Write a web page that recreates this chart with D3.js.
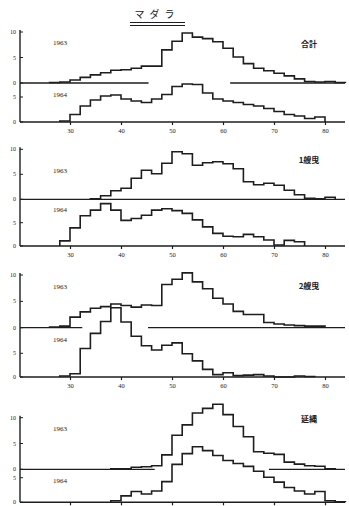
<!DOCTYPE html>
<html>
<head>
<meta charset="utf-8">
<script src="https://cdn.jsdelivr.net/npm/d3@7"></script>
<style>
  body { margin: 0; background: #fff; }
  svg { display: block; }
  text { fill: #222; }
</style>
</head>
<body>
<svg id="chart" width="349" height="506"></svg>
<script>
// length classes (cm), start of each 2 cm bin
const binStarts = [26, 28, 30, 32, 34, 36, 38, 40, 42, 44, 46, 48, 50, 52, 54, 56, 58, 60, 62, 64, 66, 68, 70, 72, 74, 76, 78, 80, 82];
const binWidth = 2;
const xTicks = [30, 40, 50, 60, 70, 80];
const yTicksUpper = [0, 5, 10];
const yTicksLower = [0, 5];
const years = ["1963", "1964"];
const gearNames = ["合計", "1艘曳", "2艘曳", "延縄"];

// frequency (%) per bin
const total1963 = [0.1, 0.2, 0.6, 1.1, 1.6, 2.0, 2.5, 2.6, 2.9, 3.3, 3.3, 6.5, 8.2, 9.8, 9.0, 8.7, 8.1, 6.8, 5.1, 3.8, 2.9, 2.4, 1.9, 1.4, 0.8, 0.3, 0.2, 0.3, 0.1];
const total1964 = [0, 0.2, 1.5, 3.2, 4.4, 5.2, 5.4, 4.6, 4.2, 3.9, 4.6, 5.5, 7.1, 7.6, 7.5, 5.8, 4.6, 4.2, 3.9, 3.5, 3.2, 2.7, 2.1, 1.5, 1.2, 0.7, 1.0, 0, 0];
const oneBoat1963 = [0, 0, 0, 0, 0.1, 0.7, 1.7, 2.2, 4.2, 5.8, 5.1, 7.2, 9.5, 9.1, 6.8, 7.3, 7.5, 7.1, 6.1, 3.5, 2.9, 3.2, 2.8, 1.8, 0.9, 0.2, 0.1, 0.4, 0];
const oneBoat1964 = [0, 1.1, 3.9, 6.5, 7.7, 9.1, 7.7, 5.5, 5.9, 6.6, 7.7, 8.0, 7.6, 7.0, 5.6, 4.1, 2.7, 2.1, 2.0, 2.5, 2.0, 1.3, 0.2, 1.2, 0.9, 0, 0, 0, 0];
const twoBoat1963 = [0.1, 0.3, 2.0, 3.0, 3.7, 4.0, 4.5, 4.2, 3.9, 4.3, 4.2, 8.2, 9.2, 10.4, 8.7, 7.4, 5.6, 4.5, 3.1, 2.5, 2.5, 1.0, 0.7, 0.5, 0.4, 0.3, 0.3, 0, 0];
const twoBoat1964 = [0, 0.2, 0.7, 6.0, 9.2, 11.7, 14.6, 11.6, 8.6, 6.6, 5.7, 6.7, 7.2, 4.9, 3.4, 1.6, 0.5, 0.9, 0.3, 0.4, 0.5, 0.2, 0, 0, 0.2, 0.1, 0, 0, 0];
const longline1963 = [0, 0, 0, 0, 0, 0, 0.1, 0.1, 0.4, 0.5, 0.7, 2.8, 6.6, 8.6, 10.9, 11.8, 12.6, 10.6, 8.3, 6.3, 3.4, 3.1, 2.9, 1.4, 1.0, 0.7, 0.6, 0.1, 0];
const longline1964 = [0, 0, 0, 0, 0, 0, 0.3, 1.3, 2.2, 1.7, 2.3, 4.2, 7.7, 9.9, 11.3, 10.5, 9.5, 8.5, 7.9, 7.3, 6.3, 5.1, 4.1, 3.0, 2.3, 1.7, 2.2, 0.3, 0.1];

// where the 1963 zero line is left open (cm)
const baselineGaps = [[45.4, 61.4], null, [32.4, 45.3], [46.6, 69.0]];

const series = [
  [total1963, total1964],
  [oneBoat1963, oneBoat1964],
  [twoBoat1963, twoBoat1964],
  [longline1963, longline1964]
];

// panel geometry (px); the last panel is cut before its tick labels
const panels = [
  { y10: 32, y0a: 83, y5b: 97, y0b: 122, yr: [43, 95], nameY: 44, xLabels: true },
  { y10: 149.3, y0a: 199.3, y5b: 222.7, y0b: 246, yr: [171, 210], nameY: 160, xLabels: true },
  { y10: 275, y0a: 327.7, y5b: 353.3, y0b: 377, yr: [287, 340], nameY: 286, xLabels: true },
  { y10: 417.7, y0a: 469.3, y5b: 477.7, y0b: 502.3, yr: [429, 481], nameY: 419, xLabels: false }
];

const axisX = 20, rightX = 345;
const ink = "#1e1e1e";
const numFont = "'Liberation Serif', 'DejaVu Serif', serif";
const jpFont = "'Noto Sans CJK JP', sans-serif";

const svg = d3.select("#chart");
const x = d3.scaleLinear().domain([30, 80]).range([70, 325]);

// title
svg.append("text")
  .attr("x", 157).attr("y", 18)
  .attr("text-anchor", "middle")
  .attr("font-family", jpFont)
  .attr("font-size", 10)
  .attr("letter-spacing", 5)
  .text("マダラ");
[22.5, 25.5].forEach(yy => {
  svg.append("line")
    .attr("x1", 130).attr("x2", 185)
    .attr("y1", yy).attr("y2", yy)
    .attr("stroke", ink).attr("stroke-width", 1.1);
});

function histPath(vals, y) {
  let first = vals.findIndex(v => v > 0);
  let last = vals.length - 1 - [...vals].reverse().findIndex(v => v > 0);
  const pts = [[binStarts[first], 0]];
  for (let i = first; i <= last; i++) pts.push([binStarts[i], vals[i]]);
  pts.push([binStarts[last] + binWidth, vals[last]]);
  pts.push([binStarts[last] + binWidth, 0]);
  return d3.line()
    .x(d => x(d[0]))
    .y(d => y(d[1]))
    .curve(d3.curveStepAfter)(pts);
}

panels.forEach((p, i) => {
  const g = svg.append("g");
  const yUp = d3.scaleLinear().domain([0, 10]).range([p.y0a, p.y10]);
  const yLo = d3.scaleLinear().domain([0, 5]).range([p.y0b, p.y5b]);

  // y axis line
  g.append("line")
    .attr("x1", axisX).attr("x2", axisX)
    .attr("y1", p.y10 - 2).attr("y2", p.y0b)
    .attr("stroke", ink).attr("stroke-width", 1.4);

  // y ticks
  const yt = [];
  yTicksUpper.forEach(t => yt.push([t, yUp(t)]));
  yTicksLower.forEach(t => yt.push([t, yLo(t)]));
  yt.forEach(([t, yy]) => {
    g.append("line")
      .attr("x1", axisX).attr("x2", axisX + 3)
      .attr("y1", yy).attr("y2", yy)
      .attr("stroke", ink).attr("stroke-width", 1);
    g.append("text")
      .attr("x", axisX - 4).attr("y", yy + 2)
      .attr("text-anchor", "end")
      .attr("font-family", numFont)
      .attr("font-size", 6)
      .text(t);
  });

  // x axis
  const xAxis = g.append("g")
    .attr("transform", `translate(0,${p.y0b})`)
    .call(d3.axisBottom(x).tickValues(xTicks).tickSize(3).tickPadding(3)
      .tickFormat(p.xLabels ? d3.format("d") : () => ""));
  xAxis.select(".domain").remove();
  xAxis.selectAll(".tick line").attr("stroke", ink).attr("stroke-width", 1.2);
  xAxis.selectAll(".tick text")
    .attr("font-family", numFont)
    .attr("font-size", 6.5)
    .attr("fill", "#222");
  g.append("line")
    .attr("x1", axisX).attr("x2", rightX)
    .attr("y1", p.y0b).attr("y2", p.y0b)
    .attr("stroke", ink).attr("stroke-width", 1.5);

  // 1963 zero line, with an opening
  const gap = baselineGaps[i];
  const segs = gap ? [[axisX, x(gap[0])], [x(gap[1]), rightX]] : [[axisX, rightX]];
  segs.forEach(s => {
    g.append("line")
      .attr("x1", s[0]).attr("x2", s[1])
      .attr("y1", p.y0a).attr("y2", p.y0a)
      .attr("stroke", ink).attr("stroke-width", 1.3);
  });

  // histograms
  g.append("path")
    .attr("d", histPath(series[i][0], yUp))
    .attr("fill", "none").attr("stroke", ink)
    .attr("stroke-width", 1.6).attr("stroke-linejoin", "miter");
  g.append("path")
    .attr("d", histPath(series[i][1], yLo))
    .attr("fill", "none").attr("stroke", ink)
    .attr("stroke-width", 1.6).attr("stroke-linejoin", "miter");

  // year labels
  years.forEach((yrTxt, k) => {
    g.append("text")
      .attr("x", 53).attr("y", p.yr[k] + 2)
      .attr("font-family", numFont)
      .attr("font-size", 7)
      .text(yrTxt);
  });

  // gear name
  g.append("text")
    .attr("x", 309).attr("y", p.nameY + 3)
    .attr("text-anchor", "middle")
    .attr("font-family", jpFont)
    .attr("font-weight", "bold")
    .attr("font-size", 8)
    .text(gearNames[i]);
});
</script>
</body>
</html>
